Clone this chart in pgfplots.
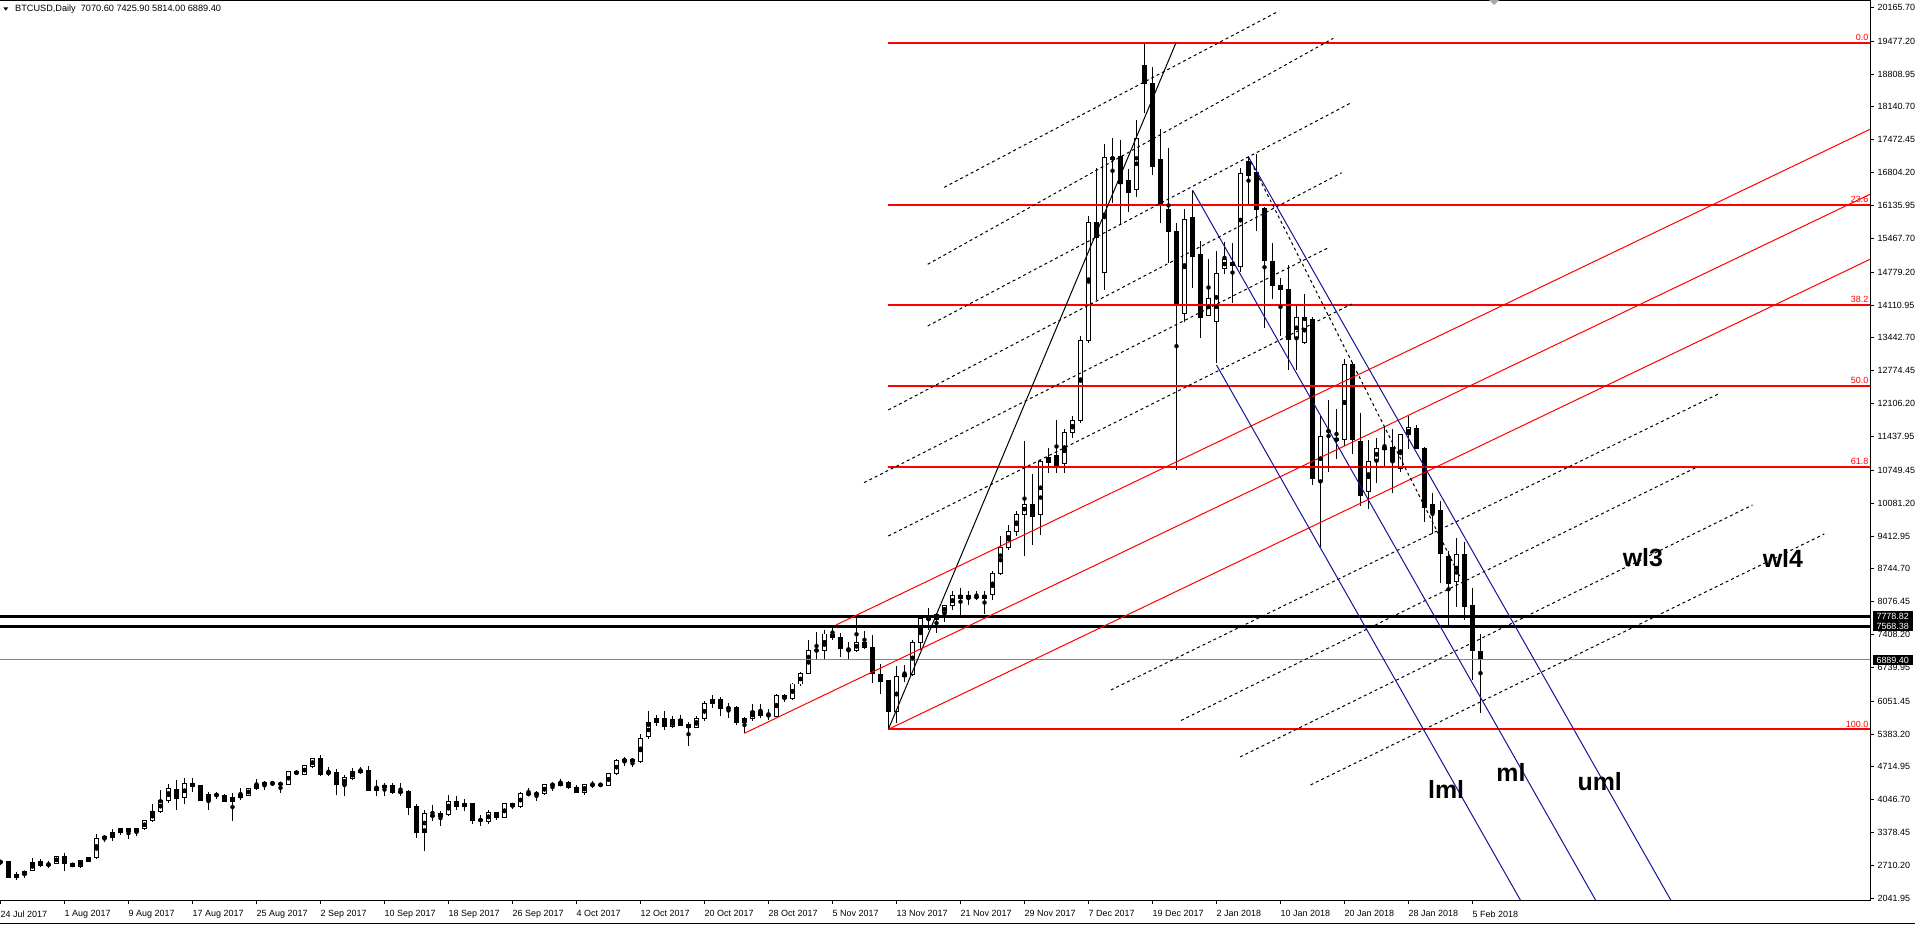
\documentclass[border=0pt]{standalone}
\usepackage{fontspec}
\setmainfont{Liberation Sans}
\usepackage{pgfplots}
\usepackage{pgfplotstable}
\pgfplotsset{compat=1.18}

\pgfplotstableread{
i O H L C
0 2795 2830 2720 2770
1 2783 2790 2450 2458
2 2458 2573 2410 2525
3 2525 2607 2458 2593
4 2607 2864 2593 2776
5 2783 2844 2674 2715
6 2720 2797 2661 2735
7 2749 2910 2740 2898
8 2898 2966 2607 2742
9 2749 2763 2674 2695
10 2695 2830 2661 2810
11 2797 2885 2776 2864
12 2864 3352 2850 3250
13 3250 3325 3190 3305
14 3284 3454 3203 3372
15 3372 3474 3339 3454
16 3454 3474 3257 3393
17 3393 3474 3305 3454
18 3454 3644 3427 3623
19 3623 3969 3596 3799
20 3799 4253 3779 4030
21 4030 4375 3982 4267
22 4253 4457 3833 4070
23 4084 4491 3962 4375
24 4375 4491 4199 4321
25 4335 4355 4030 4037
26 4037 4206 3833 4152
27 4150 4206 4070 4140
28 4131 4165 3996 4016
29 4016 4186 3610 4084
30 4084 4287 4037 4152
31 4138 4287 4118 4274
32 4267 4477 4240 4355
33 4389 4423 4253 4355
34 4382 4423 4321 4385
35 4382 4390 4186 4355
36 4355 4626 4350 4613
37 4613 4660 4540 4575
38 4558 4760 4540 4741
39 4728 4890 4700 4877
40 4877 4965 4524 4558
41 4590 4707 4524 4592
42 4592 4673 4152 4355
43 4355 4558 4131 4490
44 4477 4694 4457 4612
45 4646 4707 4579 4606
46 4640 4728 4219 4240
47 4240 4457 4131 4287
48 4287 4389 4118 4335
49 4335 4389 4165 4199
50 4206 4389 4118 4205
51 4219 4240 3745 3894
52 3907 3962 3271 3386
53 3386 3847 2999 3759
54 3722 3948 3609 3725
55 3711 3826 3521 3759
56 3745 4138 3711 4002
57 4002 4118 3847 3914
58 3914 4063 3813 3962
59 3969 3982 3562 3630
60 3630 3745 3521 3632
61 3609 3847 3562 3779
62 3779 3799 3630 3677
63 3677 3982 3670 3962
64 3962 3982 3867 3914
65 3914 4206 3880 4165
66 4160 4287 4118 4165
67 4165 4233 4016 4170
68 4172 4375 4138 4355
69 4350 4369 4233 4355
70 4342 4470 4321 4389
71 4389 4436 4267 4287
72 4292 4355 4186 4191
73 4191 4369 4152 4360
74 4350 4428 4292 4345
75 4345 4394 4313 4350
76 4333 4590 4330 4584
77 4584 4869 4550 4835
78 4828 4909 4740 4869
79 4869 4869 4706 4821
80 4821 5384 4787 5296
81 5324 5859 5283 5608
82 5608 5778 5540 5690
83 5690 5859 5459 5527
84 5527 5757 5507 5669
85 5669 5778 5540 5561
86 5575 5622 5134 5507
87 5507 5744 5500 5690
88 5690 6049 5642 6001
89 6001 6184 5913 6096
90 6096 6137 5744 5893
91 5910 6015 5710 5906
92 5927 5947 5575 5622
93 5608 5730 5405 5690
94 5690 6001 5656 5845
95 5845 6001 5710 5757
96 5760 5893 5676 5765
97 5744 6205 5740 6164
98 6164 6205 6029 6096
99 6096 6422 6083 6401
100 6401 6652 6354 6605
101 6605 7303 6600 7079
102 7080 7452 6896 7086
103 7079 7492 6910 7418
104 7418 7594 7303 7350
105 7357 7438 6943 7113
106 7105 7255 6916 7100
107 7079 7779 7045 7255
108 7255 7486 7113 7153
109 7153 7391 6422 6620
110 6590 6815 6190 6455
111 6469 6480 5480 5845
112 5845 6774 5608 6557
113 6550 6794 6435 6604
114 6590 7302 6570 7255
115 7255 7777 7100 7743
116 7743 7946 7506 7708
117 7708 7845 7438 7811
118 7845 8014 7655 7994
119 7994 8285 7899 8204
120 8204 8353 7797 8150
121 8150 8285 8014 8197
122 8170 8285 8116 8165
123 8150 8285 7831 8204
124 8218 8692 8103 8658
125 8658 9403 8624 9186
126 9186 9640 9132 9505
127 9505 9912 9403 9857
128 9857 11348 8997 10061
129 10061 10670 9220 9810
130 9857 10962 9424 10928
131 10914 11199 10691 11016
132 11043 11775 10690 10826
133 10894 11592 10690 11524
134 11524 11843 11402 11761
135 11761 13483 11707 13388
136 13388 15922 13334 15794
137 15794 16892 14215 15489
138 14777 17380 14418 17115
139 17074 17502 16180 17115
140 17129 17468 15740 16587
141 16634 16871 16011 16397
142 16465 17874 16316 17502
143 18972 19445 18010 18606
144 18606 18945 16756 16925
145 17074 17684 15787 16180
146 16058 17298 14974 15604
147 15604 15787 10758 14147
148 13930 16058 13774 15841
149 15895 16438 14452 15096
150 15130 15421 13435 13862
151 13896 15042 13890 14249
152 13774 15218 12927 14757
153 14859 15401 14737 15028
154 14981 15380 14160 14906
155 14892 16892 14791 16776
156 17031 17129 16150 16753
157 16805 17182 15623 16060
158 16075 16113 13643 15021
159 14998 15375 14230 14509
160 14509 14667 13477 14418
161 14418 14930 12784 13402
162 13440 14080 12784 13854
163 13342 14343 13311 13854
164 13816 13869 10450 10578
165 10525 11858 9185 11444
166 11545 12174 10714 11540
167 11354 11994 10977 11392
168 11369 13003 11240 12890
169 12890 12950 11082 11369
170 11331 11911 10013 10239
171 10314 11369 9961 10917
172 10947 11406 10480 11196
173 11173 11632 10842 11218
174 11218 11580 10277 10917
175 10789 11482 10714 11467
176 11467 11858 11180 11617
177 11595 11670 11180 11195
178 11195 11218 9697 9998
179 10051 10277 9448 9885
180 9938 10126 8455 9050
181 8997 9110 7543 8455
182 8485 9373 7965 9035
183 9035 9298 7702 7980
184 7995 8357 6474 7077
185 7070.60 7425.90 5814.00 6889.40
}\candles

\definecolor{fibred}{RGB}{255,0,0}
\definecolor{pfblue}{RGB}{20,20,150}
\definecolor{bidgray}{RGB}{119,136,153}

\begin{document}
\begin{tikzpicture}[x=1bp,y=1bp]
\path[use as bounding box] (0bp,0bp) rectangle (1915bp,925bp);
\begin{axis}[
  at={(0bp,24.3bp)}, anchor=south west,
  scale only axis, width=1870bp, height=900bp,
  xmin=-0.0625, xmax=233.6875, ymin=1993, ymax=20300,
  axis line style={draw=none},
  tick align=outside, major tick length=3.5bp,
  tick style={black, line width=0.8bp},
  xtick pos=bottom, ytick pos=right, yticklabel pos=right,
  xtick={0,8,...,184},
  xticklabels={24 Jul 2017, 1 Aug 2017, 9 Aug 2017, 17 Aug 2017, 25 Aug 2017, 2 Sep 2017, 10 Sep 2017, 18 Sep 2017, 26 Sep 2017, 4 Oct 2017, 12 Oct 2017, 20 Oct 2017, 28 Oct 2017, 5 Nov 2017, 13 Nov 2017, 21 Nov 2017, 29 Nov 2017, 7 Dec 2017, 19 Dec 2017, 2 Jan 2018, 10 Jan 2018, 20 Jan 2018, 28 Jan 2018, 5 Feb 2018},
  ytick={20165.70,19477.20,18808.95,18140.70,17472.45,16804.20,16135.95,15467.70,14779.20,14110.95,13442.70,12774.45,12106.20,11437.95,10749.45,10081.20,9412.95,8744.70,8076.45,7408.20,6739.95,6051.45,5383.20,4714.95,4046.70,3378.45,2710.20,2041.95},
  yticklabels={20165.70,19477.20,18808.95,18140.70,17472.45,16804.20,16135.95,15467.70,14779.20,14110.95,13442.70,12774.45,12106.20,11437.95,10749.45,10081.20,9412.95,8744.70,8076.45,7408.20,6739.95,6051.45,5383.20,4714.95,4046.70,3378.45,2710.20,2041.95},
  xticklabel style={anchor=north west, inner sep=0pt, yshift=-6.3bp, font=\fontsize{9}{10}\selectfont},
  yticklabel style={anchor=west, inner sep=0pt, xshift=4bp, font=\fontsize{9}{10}\selectfont},
]
% candles: wicks
\addplot[only marks, mark=none, forget plot,
  error bars/.cd, y dir=both, y explicit, error mark=none,
  error bar style={draw=black, solid, line width=1bp}]
  table[x=i, y expr={(\thisrow{H}+\thisrow{L})/2}, y error expr={(\thisrow{H}-\thisrow{L})/2}] {\candles};
% bodies (outline / bear fill)
\addplot[only marks, mark=none, forget plot,
  error bars/.cd, y dir=both, y explicit, error mark=none,
  error bar style={draw=black, solid, line width=5bp}]
  table[x=i, y expr={(\thisrow{O}+\thisrow{C})/2}, y error expr={abs(\thisrow{C}-\thisrow{O})/2+10}] {\candles};
% bull body fill
\addplot[only marks, mark=none, forget plot,
  error bars/.cd, y dir=both, y explicit, error mark=none,
  error bar style={draw=white, solid, line width=3bp}]
  table[x=i, y expr={(\thisrow{O}+\thisrow{C})/2}, y error expr={max((\thisrow{C}-\thisrow{O})/2-10,0)}] {\candles};

% horizontal price lines
\addplot[black, line width=2.5bp] coordinates {(-1,7778.82) (240,7778.82)};
\addplot[black, line width=2.5bp] coordinates {(-1,7568.38) (240,7568.38)};
\addplot[bidgray, line width=1bp] coordinates {(-1,6889.40) (240,6889.40)};

% Fibonacci retracement
\addplot[fibred, line width=2bp] coordinates {(110.98,19445.6) (240,19445.6)};
\addplot[fibred, line width=2bp] coordinates {(110.98,16150) (240,16150)};
\addplot[fibred, line width=2bp] coordinates {(110.98,14110.6) (240,14110.6)};
\addplot[fibred, line width=2bp] coordinates {(110.98,12462.5) (240,12462.5)};
\addplot[fibred, line width=2bp] coordinates {(110.98,10814.5) (240,10814.5)};
\addplot[fibred, line width=2bp] coordinates {(110.98,5479.5) (240,5479.5)};
\addplot[black, line width=1bp] coordinates {(110.98,5479.5) (146.94,19445.6)};

% red channel lines
\addplot[fibred, line width=1bp] coordinates {(104.44,7601) (233.69,17684)};
\addplot[fibred, line width=1bp] coordinates {(92.98,5398) (233.69,16362)};
\addplot[fibred, line width=1bp] coordinates {(110.98,5479.5) (233.69,15040)};

% dashed lines, upper group
\addplot[black, line width=1bp, dash pattern=on 3bp off 3bp] coordinates {(117.97,16504) (159.65,20076)};
\addplot[black, line width=1bp, dash pattern=on 3bp off 3bp] coordinates {(115.9,14938) (166.6,19535)};
\addplot[black, line width=1bp, dash pattern=on 3bp off 3bp] coordinates {(115.9,13683) (168.7,18213)};
\addplot[black, line width=1bp, dash pattern=on 3bp off 3bp] coordinates {(110.98,11974) (167.65,16801)};
\addplot[black, line width=1bp, dash pattern=on 3bp off 3bp] coordinates {(107.94,10496) (165.98,15276)};
\addplot[black, line width=1bp, dash pattern=on 3bp off 3bp] coordinates {(110.98,9412) (168.9,14131)};
% dashed lines, lower group
\addplot[black, line width=1bp, dash pattern=on 3bp off 3bp] coordinates {(138.8,6279) (214.9,12314)};
\addplot[black, line width=1bp, dash pattern=on 3bp off 3bp] coordinates {(147.56,5659) (212.0,10809)};
\addplot[black, line width=1bp, dash pattern=on 3bp off 3bp] coordinates {(154.94,4916) (219.0,10042)};
\addplot[black, line width=1bp, dash pattern=on 3bp off 3bp] coordinates {(163.75,4347) (227.98,9452)};
% descending dashed
\addplot[black, line width=1bp, dash pattern=on 3bp off 3bp] coordinates {(155.98,17127) (182.4,8598)};

% pitchfork
\addplot[pfblue, line width=1bp] coordinates {(155.98,17127) (209.5,1800)};
\addplot[pfblue, line width=1bp] coordinates {(149.0,16449) (200.1,1800)};
\addplot[pfblue, line width=1bp] coordinates {(152.0,12890) (190.7,1800)};

% fib labels
\node[anchor=base east, text=fibred, inner sep=0pt, font=\fontsize{9}{9}\selectfont] at (axis cs:233.5,19487) {0.0};
\node[anchor=base east, text=fibred, inner sep=0pt, font=\fontsize{9}{9}\selectfont] at (axis cs:233.5,16191) {23.6};
\node[anchor=base east, text=fibred, inner sep=0pt, font=\fontsize{9}{9}\selectfont] at (axis cs:233.5,14152) {38.2};
\node[anchor=base east, text=fibred, inner sep=0pt, font=\fontsize{9}{9}\selectfont] at (axis cs:233.5,12504) {50.0};
\node[anchor=base east, text=fibred, inner sep=0pt, font=\fontsize{9}{9}\selectfont] at (axis cs:233.5,10856) {61.8};
\node[anchor=base east, text=fibred, inner sep=0pt, font=\fontsize{9}{9}\selectfont] at (axis cs:233.5,5521) {100.0};

% text labels
\node[font=\fontsize{25}{25}\selectfont\bfseries] at (axis cs:205.3,8964) {wl3};
\node[font=\fontsize{25}{25}\selectfont\bfseries] at (axis cs:222.8,8964) {wl4};
\node[font=\fontsize{25}{25}\selectfont\bfseries] at (axis cs:180.7,4265) {lml};
\node[font=\fontsize{25}{25}\selectfont\bfseries] at (axis cs:188.8,4591) {ml};
\node[font=\fontsize{25}{25}\selectfont\bfseries] at (axis cs:199.9,4407) {uml};
\end{axis}
% frame
\draw[black, line width=1bp] (0bp,924.5bp) -- (1870.5bp,924.5bp);
\draw[black, line width=1bp] (1870.5bp,924.5bp) -- (1870.5bp,24.3bp) -- (0bp,24.3bp);
\draw[black, line width=1.5bp] (0bp,1.7bp) -- (1915bp,1.7bp);
% title
\fill[black] (3.3bp,917.7bp) -- (8.3bp,917.7bp) -- (5.8bp,914.3bp) -- cycle;
\node[anchor=base west, inner sep=0pt, font=\fontsize{9.2}{10}\selectfont] at (15bp,913.5bp) {BTCUSD,Daily\ \ 7070.60 7425.90 5814.00 6889.40};
\fill[gray!70] (1489bp,925bp) -- (1499bp,925bp) -- (1494bp,920bp) -- cycle;
% price boxes
\node[fill=black, text=white, anchor=west, inner sep=0pt, minimum width=40bp, minimum height=9.7bp, font=\fontsize{9}{9}\selectfont] at (1872.5bp,308.7bp) {7778.82};
\node[fill=black, text=white, anchor=west, inner sep=0pt, minimum width=40bp, minimum height=9.7bp, font=\fontsize{9}{9}\selectfont] at (1872.5bp,298.9bp) {7568.38};
\node[fill=black, text=white, anchor=west, inner sep=0pt, minimum width=40bp, minimum height=9.7bp, font=\fontsize{9}{9}\selectfont] at (1872.5bp,265.0bp) {6889.40};
\end{tikzpicture}
\end{document}
